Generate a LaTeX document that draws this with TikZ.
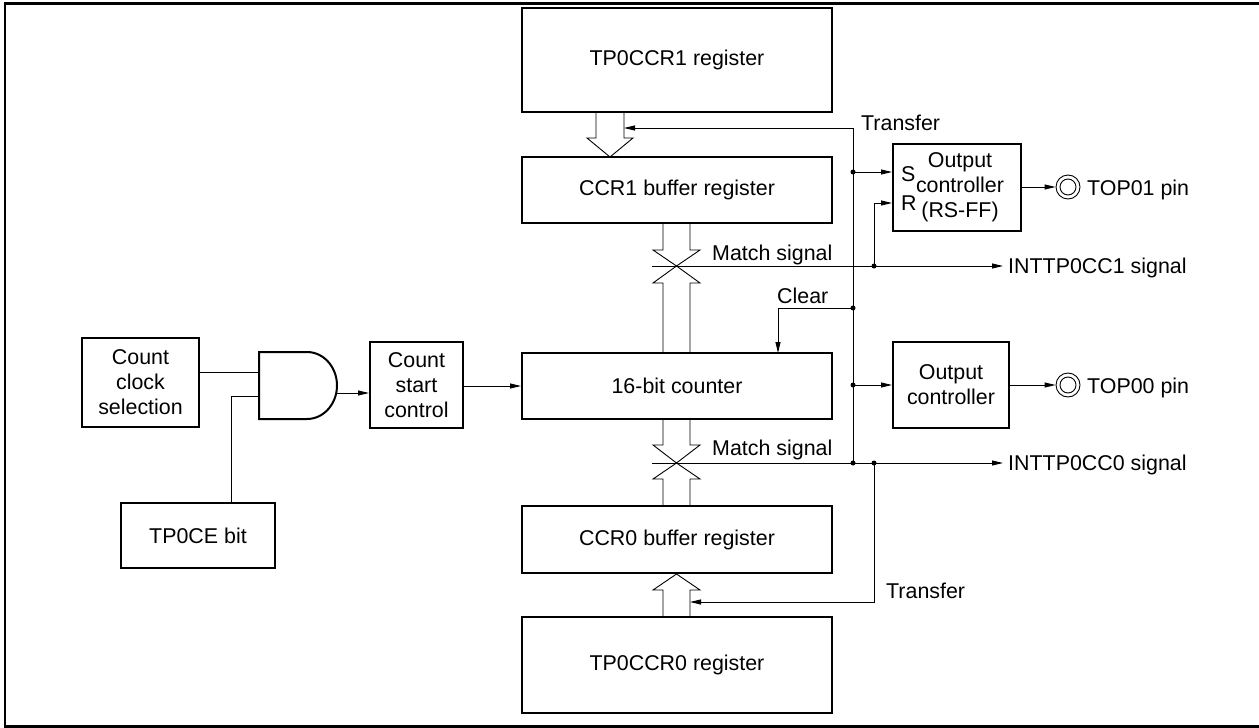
\documentclass[tikz,border=0pt]{standalone}
\usepackage{fontspec}
\setmainfont{Liberation Sans}
\usetikzlibrary{arrows.meta,calc}
\begin{document}
\begin{tikzpicture}[x=1pt,y=-1pt,
  every node/.style={font=\fontsize{21.4}{25}\selectfont},
  box/.style={draw,line width=2pt,inner sep=0pt,align=center},
  thin/.style={line width=0.9pt},
  arr/.style={thin,-{Triangle[length=11pt,width=5pt]}},
  hollow/.style={thin,line join=miter},
  lbl/.style={anchor=base west,inner sep=0pt},
  jdot/.style={fill,circle,inner sep=0pt,minimum size=5pt}]

\useasboundingbox (0,0) rectangle (1259,728);
\draw[line width=2.7pt] (1259,3.5) -- (5,3.5) -- (5,726.5) -- (1259,726.5);

% main column
\node[box,minimum width=310pt,minimum height=104pt] (r1) at (677,60) {TP0CCR1 register};
\node[box,minimum width=310pt,minimum height=66pt] (b1) at (677,190) {CCR1 buffer register};
\node[box,minimum width=310pt,minimum height=66pt] (cnt) at (677,386) {16-bit counter};
\node[box,minimum width=310pt,minimum height=67pt] (b0) at (677,539.5) {CCR0 buffer register};
\node[box,minimum width=310pt,minimum height=96pt] (r0) at (677,665) {TP0CCR0 register};

% output controllers
\node[box,minimum width=128pt,minimum height=87pt] (oc1) at (957,187.5) {};
\node[inner sep=0pt,align=center] (oc1t) at (960,187) {Output\\controller\\(RS-FF)};
\node[lbl] (sS) at (901,181) {S};
\node[lbl] (sR) at (901,210) {R};
\node[box,minimum width=116pt,minimum height=86pt] (oc0) at (951,385) {Output\\controller};

% left part
\node[box,minimum width=117pt,minimum height=89pt] (ccs) at (140.5,382.5) {Count\\clock\\selection};
\node[box,minimum width=93pt,minimum height=86pt] (csc) at (416.5,385) {Count\\start\\control};
\node[box,minimum width=154pt,minimum height=65pt] (tpce) at (198,535.5) {TP0CE bit};

% AND gate
\draw[line width=2pt] (259,352) -- (307,352) arc[start angle=90,end angle=-90,x radius=30,y radius=-33.5] -- (259,419) -- cycle;
\coordinate (gin1) at (259,372);
\coordinate (gin2) at (259,396);
\coordinate (gout) at (337,393);
\draw[thin] (ccs.east |- gin1) -- (gin1);
\draw[thin] (231,503) -- (231,396) -- (gin2);
\draw[arr] (gout) -- (csc.west |- gout);
\draw[arr] (csc.east |- cnt.west) -- (cnt.west);

% hollow arrows
\draw[hollow] (596,112) -- (596,138) -- (587,138) -- (610,157) -- (633,138) -- (624,138) -- (624,112);
\draw[hollow] (663,223) -- (663,250) -- (653,250) -- (676.5,266) -- (700,250) -- (690,250) -- (690,223);
\draw[hollow] (663,353) -- (663,283) -- (653,283) -- (676.5,266) -- (700,283) -- (690,283) -- (690,353);
\draw[hollow] (663,419) -- (663,445) -- (653,445) -- (676.5,463) -- (700,445) -- (690,445) -- (690,419);
\draw[hollow] (663,506) -- (663,479) -- (653,479) -- (676.5,463) -- (700,479) -- (690,479) -- (690,506);
\draw[hollow] (663,617) -- (663,590) -- (653,590) -- (676.5,574) -- (700,590) -- (690,590) -- (690,617);

% junctions
\coordinate (jS) at (853,172);
\coordinate (jClr) at (853,308);
\coordinate (jO0) at (853,385);
\coordinate (jI0) at (853,463);
\coordinate (jR) at (874,266);
\coordinate (jT0) at (874,463);
\node[jdot] at (jS) {};
\node[jdot] at (jClr) {};
\node[jdot] at (jO0) {};
\node[jdot] at (jI0) {};
\node[jdot] at (jR) {};
\node[jdot] at (jT0) {};

% transfer 1
\draw[arr] (jI0) -- (853,128) -- (624,128);
\node[lbl] (tr1) at (861,130) {Transfer};
\draw[arr] (jS) -- (oc1.west |- jS);
\draw[arr] (jR) -- (874,203) -- (oc1.west |- 0,203);

% match signals
\coordinate (m1) at (652,266);
\coordinate (i1) at (1003,266);
\draw[arr] (m1) -- (i1);
\node[lbl] (ms1) at (712,260) {Match signal};
\node[lbl] (int1) at (1008,273) {INTTP0CC1 signal};

\coordinate (m0) at (652,463);
\coordinate (i0) at (1003,463);
\draw[arr] (m0) -- (i0);
\node[lbl] (ms0) at (712,455) {Match signal};
\node[lbl] (int0) at (1008,470) {INTTP0CC0 signal};

% clear
\draw[arr] (jClr) -- (778,308) -- (778,353);
\node[lbl] (clr) at (777,303) {Clear};

% output controller 0 input
\draw[arr] (jO0) -- (oc0.west);

% transfer 0
\draw[arr] (jT0) -- (874,602) -- (690,602);
\node[lbl] (tr0) at (886,598) {Transfer};

% pins
\node[circle,draw,thin,minimum size=24pt,inner sep=0pt] (p1) at (1068,187) {};
\draw[thin] (p1.center) circle (8pt);
\draw[arr] (oc1.east |- p1) -- (p1.west);
\node[lbl] (p1t) at (1087,195) {TOP01 pin};

\node[circle,draw,thin,minimum size=24pt,inner sep=0pt] (p0) at (1068,385) {};
\draw[thin] (p0.center) circle (8pt);
\draw[arr] (oc0.east) -- (p0.west);
\node[lbl] (p0t) at (1087,393) {TOP00 pin};
\end{tikzpicture}
\end{document}
